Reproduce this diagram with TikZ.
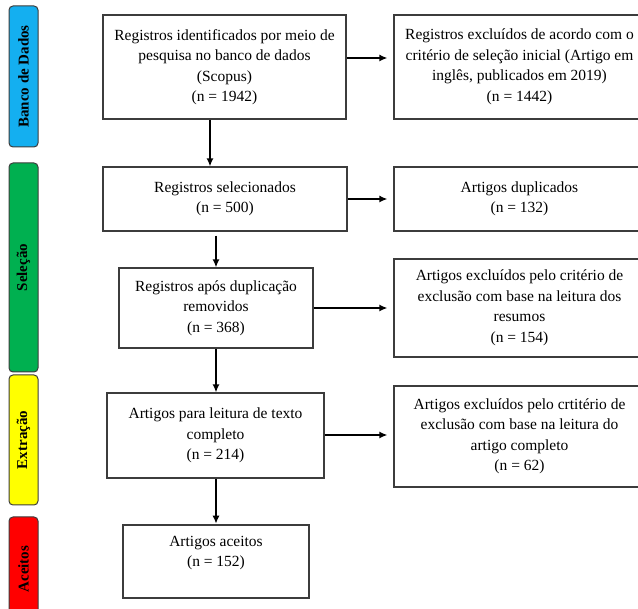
\documentclass[tikz,border=0pt]{standalone}
\usepackage{fontspec}
\setmainfont{Liberation Serif}
\usetikzlibrary{arrows.meta}
\definecolor{bdblue}{RGB}{20,175,240}
\definecolor{selgreen}{RGB}{0,176,80}
\definecolor{extyellow}{RGB}{255,255,0}
\definecolor{acered}{RGB}{255,0,0}
\definecolor{edge}{RGB}{60,60,60}
\begin{document}
\begin{tikzpicture}[x=1pt,y=-1pt,
  every node/.style={font=\fontsize{15.5}{20.5}\selectfont},
  box/.style={draw=edge, line width=1.2pt, inner sep=0pt, align=center},
  phase/.style={draw=edge, line width=1pt, rounded corners=4pt, rotate=90,
    inner sep=0pt, minimum height=29pt, font=\fontsize{15}{18}\selectfont\bfseries},
  arr/.style={draw, line width=1.5pt, -{Latex[length=8pt,width=7pt]}}]
\useasboundingbox (0,0) rectangle (638,609);

% fases
\node[phase, fill=bdblue, minimum width=141pt] (bd) at (23.5,76.5) {Banco de Dados};
\node[phase, fill=selgreen, minimum width=209pt] (sel) at (23.5,267.5) {Seleção};
\node[phase, fill=extyellow, minimum width=130pt] (ext) at (23.5,440) {Extração};
\node[phase, fill=acered, minimum width=104pt] (ace) at (23.5,569) {Aceitos};

% coluna principal
\node[box, minimum width=243pt, minimum height=104pt] (id) at (224.5,67) {Registros identificados por meio de\\pesquisa no banco de dados\\(Scopus)\\(n = 1942)};
\node[box, minimum width=244pt, minimum height=64pt] (selec) at (225,199) {Registros selecionados\\(n = 500)};
\node[box, minimum width=194pt, minimum height=80pt] (rem) at (216,308) {Registros após duplicação\\removidos\\(n = 368)};
\node[box, minimum width=217pt, minimum height=85pt] (full) at (215.5,435.5) {Artigos para leitura de texto\\completo\\(n = 214)};
\node[box, line width=2.6pt, minimum width=186pt, minimum height=73pt] (acc) at (216,561.5) {Artigos aceitos\\(n = 152)\\\mbox{}};

% coluna de exclusoes
\node[box, minimum width=251pt, minimum height=104pt] (exc1) at (519.5,67) {Registros excluídos de acordo com o\\critério de seleção inicial (Artigo em\\inglês, publicados em 2019)\\(n = 1442)};
\node[box, minimum width=251pt, minimum height=64pt] (dup) at (519.5,199) {Artigos duplicados\\(n = 132)};
\node[box, minimum width=251pt, minimum height=98pt] (exc2) at (519.5,308) {Artigos excluídos pelo critério de\\exclusão com base na leitura dos\\resumos\\(n = 154)};
\node[box, minimum width=251pt, minimum height=101pt] (exc3) at (519.5,436.5) {Artigos excluídos pelo crtitério de\\exclusão com base na leitura do\\artigo completo\\(n = 62)};

\path[arr] ([xshift=-14.5pt]id.south) -- ([xshift=-15pt]selec.north);
\path[arr, shorten <=4pt] (rem.north |- selec.south) -- (rem.north);
\path[arr] (rem.south) -- (rem.south |- full.north);
\path[arr] (acc.north |- full.south) -- (acc.north);

\path[arr, shorten >=6pt] ([yshift=9pt]id.east) -- ([yshift=9pt]exc1.west);
\path[arr, shorten >=6pt] (selec.east) -- (dup.west);
\path[arr, shorten >=6pt] (rem.east) -- (exc2.west);
\path[arr, shorten >=6pt] ([yshift=0.5pt]full.east) -- ([yshift=0.5pt]full.east -| exc3.west);
\end{tikzpicture}
\end{document}
